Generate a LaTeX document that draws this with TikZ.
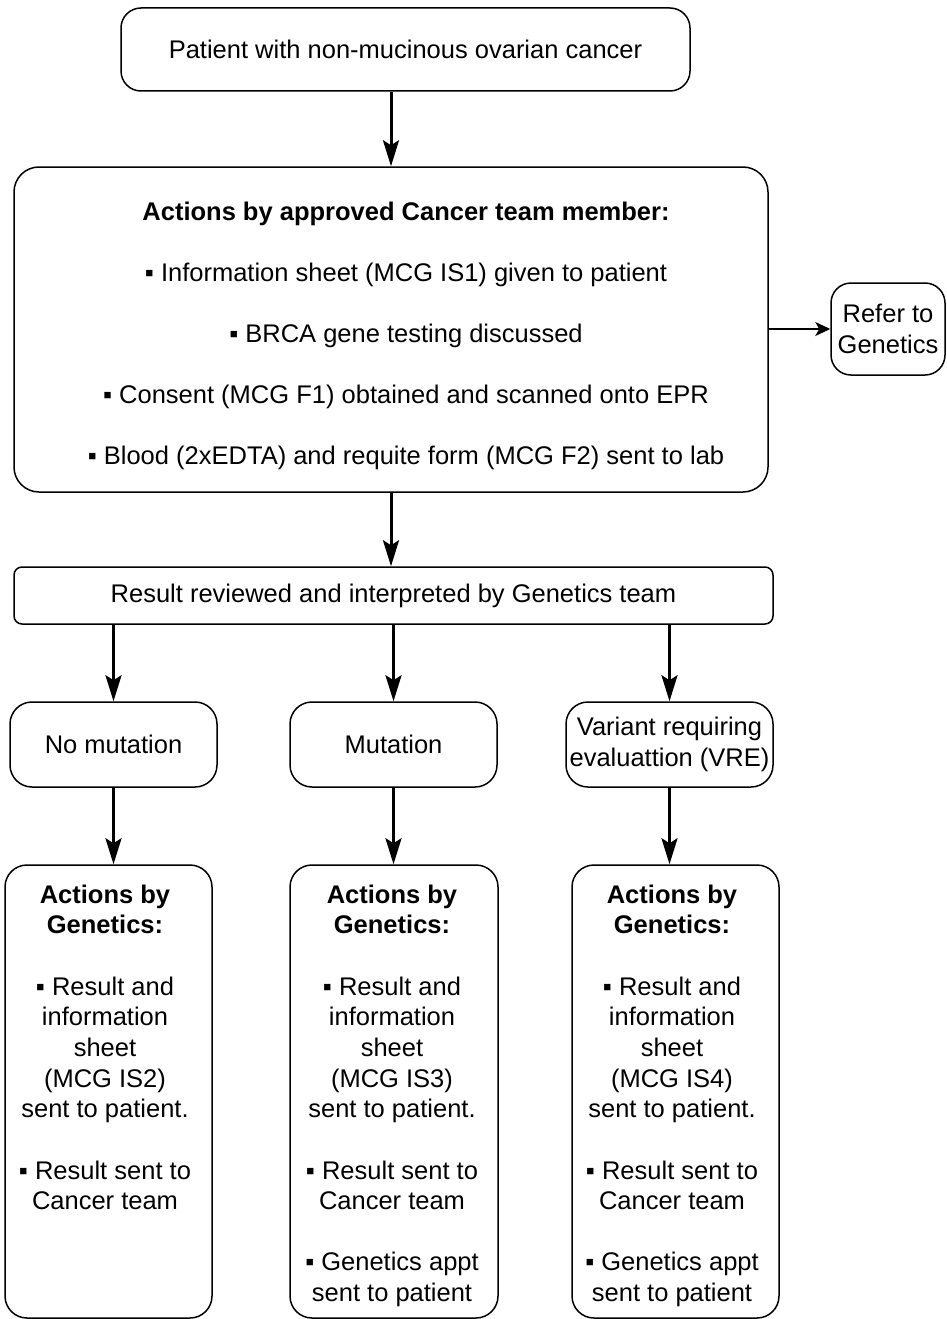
\documentclass[tikz,border=0pt]{standalone}
\usepackage{fontspec}
\setmainfont{Liberation Sans}
\usetikzlibrary{arrows.meta}

\newcommand{\itemsq}{▪ }

\tikzset{
  box/.style={draw=black, line width=1.5pt, rounded corners=20pt, inner sep=0pt, align=center,
    font=\fontsize{25.5pt}{30.7pt}\selectfont},
  txt/.style={inner sep=0pt, align=center, font=\fontsize{25.5pt}{30.7pt}\selectfont},
  flow/.style={line width=3pt, -{Stealth[length=26pt,width=16pt,inset=5pt]}},
  side/.style={line width=1.3pt, -{Stealth[length=15pt,width=14pt,inset=4pt]}}
}

\begin{document}
\begin{tikzpicture}[x=1pt,y=-1pt]
  \useasboundingbox (0,0) rectangle (947,1319);

  % first step
  \node[box, minimum width=569pt, minimum height=83pt] (patient) at (405.5,49.5)
    {Patient with non-mucinous ovarian cancer};

  % cancer team
  \node[box, rounded corners=25pt, minimum width=754pt, minimum height=325pt] (cteam) at (391,329.5) {};
  \node[txt, anchor=north] (cteamtxt) at (406,201.5)
    {\textbf{Actions by approved Cancer team member:}\\[30.5pt]
     \itemsq Information sheet (MCG IS1) given to patient\\[30.5pt]
     \itemsq BRCA gene testing discussed\\[30.5pt]
     \itemsq Consent (MCG F1) obtained and scanned onto EPR\\[30.5pt]
     \itemsq Blood (2xEDTA) and requite form (MCG F2) sent to lab};

  \node[box, minimum width=114pt, minimum height=92pt] (refer) at (888,329) {Refer to\\Genetics};

  % genetics team
  \node[box, rounded corners=8pt, minimum width=759pt, minimum height=57pt] (result) at (393.5,595.5)
    {Result reviewed and interpreted by Genetics team};

  \node[box, rounded corners=22pt, minimum width=207pt, minimum height=85pt] (nomut) at (113.5,744.5) {No mutation};
  \node[box, rounded corners=22pt, minimum width=207pt, minimum height=85pt] (mut) at (393.5,744.5) {Mutation};
  \node[box, rounded corners=22pt, minimum width=207pt, minimum height=85pt] (vre) at (669.5,744.5)
    {Variant requiring\\evaluattion (VRE)};

  % actions by genetics
  \node[box, rounded corners=22pt, minimum width=207pt, minimum height=453pt] (genA) at (108.5,1091.5) {};
  \node[box, rounded corners=22pt, minimum width=208pt, minimum height=453pt] (genB) at (394,1091.5) {};
  \node[box, rounded corners=22pt, minimum width=207pt, minimum height=453pt] (genC) at (675.5,1091.5) {};

  \node[txt, anchor=north] (genAtxt) at (105,884.5)
    {\textbf{Actions by}\\\textbf{Genetics:}\\[30.5pt]
     \itemsq Result and\\information\\sheet\\(MCG IS2)\\sent to patient.\\[30.5pt]
     \itemsq Result sent to\\Cancer team};
  \node[txt, anchor=north] (genBtxt) at (392,884.5)
    {\textbf{Actions by}\\\textbf{Genetics:}\\[30.5pt]
     \itemsq Result and\\information\\sheet\\(MCG IS3)\\sent to patient.\\[30.5pt]
     \itemsq Result sent to\\Cancer team\\[30.5pt]
     \itemsq Genetics appt\\sent to patient};
  \node[txt, anchor=north] (genCtxt) at (672,884.5)
    {\textbf{Actions by}\\\textbf{Genetics:}\\[30.5pt]
     \itemsq Result and\\information\\sheet\\(MCG IS4)\\sent to patient.\\[30.5pt]
     \itemsq Result sent to\\Cancer team\\[30.5pt]
     \itemsq Genetics appt\\sent to patient};

  % arrows
  \draw[flow] (patient.south -| cteam.north) -- (cteam.north);
  \draw[flow] (cteam.south) -- (result.north -| cteam.south);
  \draw[side] (cteam.east |- refer.west) -- (refer.west);
  \foreach \outc/\act in {nomut/genA, mut/genB, vre/genC}
  {
    \draw[flow] (result.south -| \outc.north) -- (\outc.north);
    \draw[flow] (\outc.south) -- (\outc.south |- \act.north);
  }

\end{tikzpicture}
\end{document}
